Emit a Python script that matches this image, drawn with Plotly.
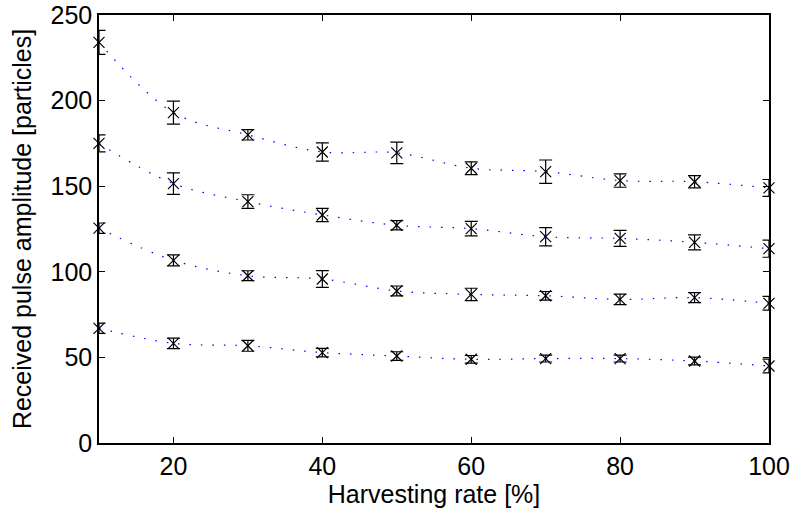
import plotly.graph_objects as go

rate = [10, 20, 30, 40, 50, 60, 70, 80, 90, 100]

amp_a = [234, 193, 180, 170, 169.5, 160.5, 158.5, 153.3, 152.6, 149]
err_a = [7, 6.7, 3, 5.3, 6.3, 3.7, 6.8, 3.9, 3.6, 4.9]

amp_b = [175, 151.5, 141, 133.2, 127.2, 125.2, 120.5, 119.5, 117.2, 113.5]
err_b = [5, 6.3, 4, 3.9, 2.7, 4.2, 5.3, 4.7, 4.4, 5]

amp_c = [125.5, 106.7, 97.7, 95.8, 88.8, 86.8, 86, 83.9, 84.9, 81.6]
err_c = [3, 3.2, 2.9, 4.9, 2.9, 3.6, 2.5, 3.1, 2.9, 4]

amp_d = [67, 58.2, 56.8, 52.8, 50.8, 48.9, 49.3, 49.3, 47.9, 45]
err_d = [3, 3.1, 3.2, 2.5, 2.5, 2.2, 2, 2, 2.3, 4]

series = [(amp_a, err_a), (amp_b, err_b), (amp_c, err_c), (amp_d, err_d)]

fig = go.Figure()
for amp, err in series:
    # smooth dotted blue curve through the means
    fig.add_trace(go.Scatter(
        x=rate, y=amp, mode="lines",
        line=dict(color="#0000FF", width=1.2, shape="spline", smoothing=1.0,
                  dash="1.5px,10px"),
        hoverinfo="skip", showlegend=False,
    ))
    # means with error bars
    fig.add_trace(go.Scatter(
        x=rate, y=amp, mode="markers",
        marker=dict(symbol="x-thin-open", size=11, color="black",
                    line=dict(color="black", width=1.2)),
        error_y=dict(type="data", array=err, visible=True, color="black",
                     thickness=1.2, width=6.5),
        cliponaxis=False, showlegend=False,
    ))

axis_font = dict(family="Liberation Sans, Arial, sans-serif", size=25, color="black")

fig.update_layout(
    width=791, height=513,
    margin=dict(l=99, r=22, t=15, b=70),
    paper_bgcolor="white", plot_bgcolor="white",
    font=axis_font,
    xaxis=dict(
        range=[10, 100], tick0=0, dtick=20, showgrid=False, zeroline=False,
        automargin=False,
        showline=True, linecolor="black", linewidth=1.5, mirror="ticks",
        ticks="inside", ticklen=6, tickcolor="black", tickwidth=1,
        tickfont=axis_font,
        title=dict(text="Harvesting rate [%]", font=axis_font, standoff=5),
    ),
    yaxis=dict(
        range=[0, 250], tick0=0, dtick=50, showgrid=False, zeroline=False,
        automargin=False,
        showline=True, linecolor="black", linewidth=1.5, mirror="ticks",
        ticks="inside", ticklen=6, tickcolor="black", tickwidth=1,
        tickfont=axis_font,
        title=dict(text="Received pulse amplitude [particles]", font=axis_font, standoff=12),
    ),
)

fig.write_html("out.html")
